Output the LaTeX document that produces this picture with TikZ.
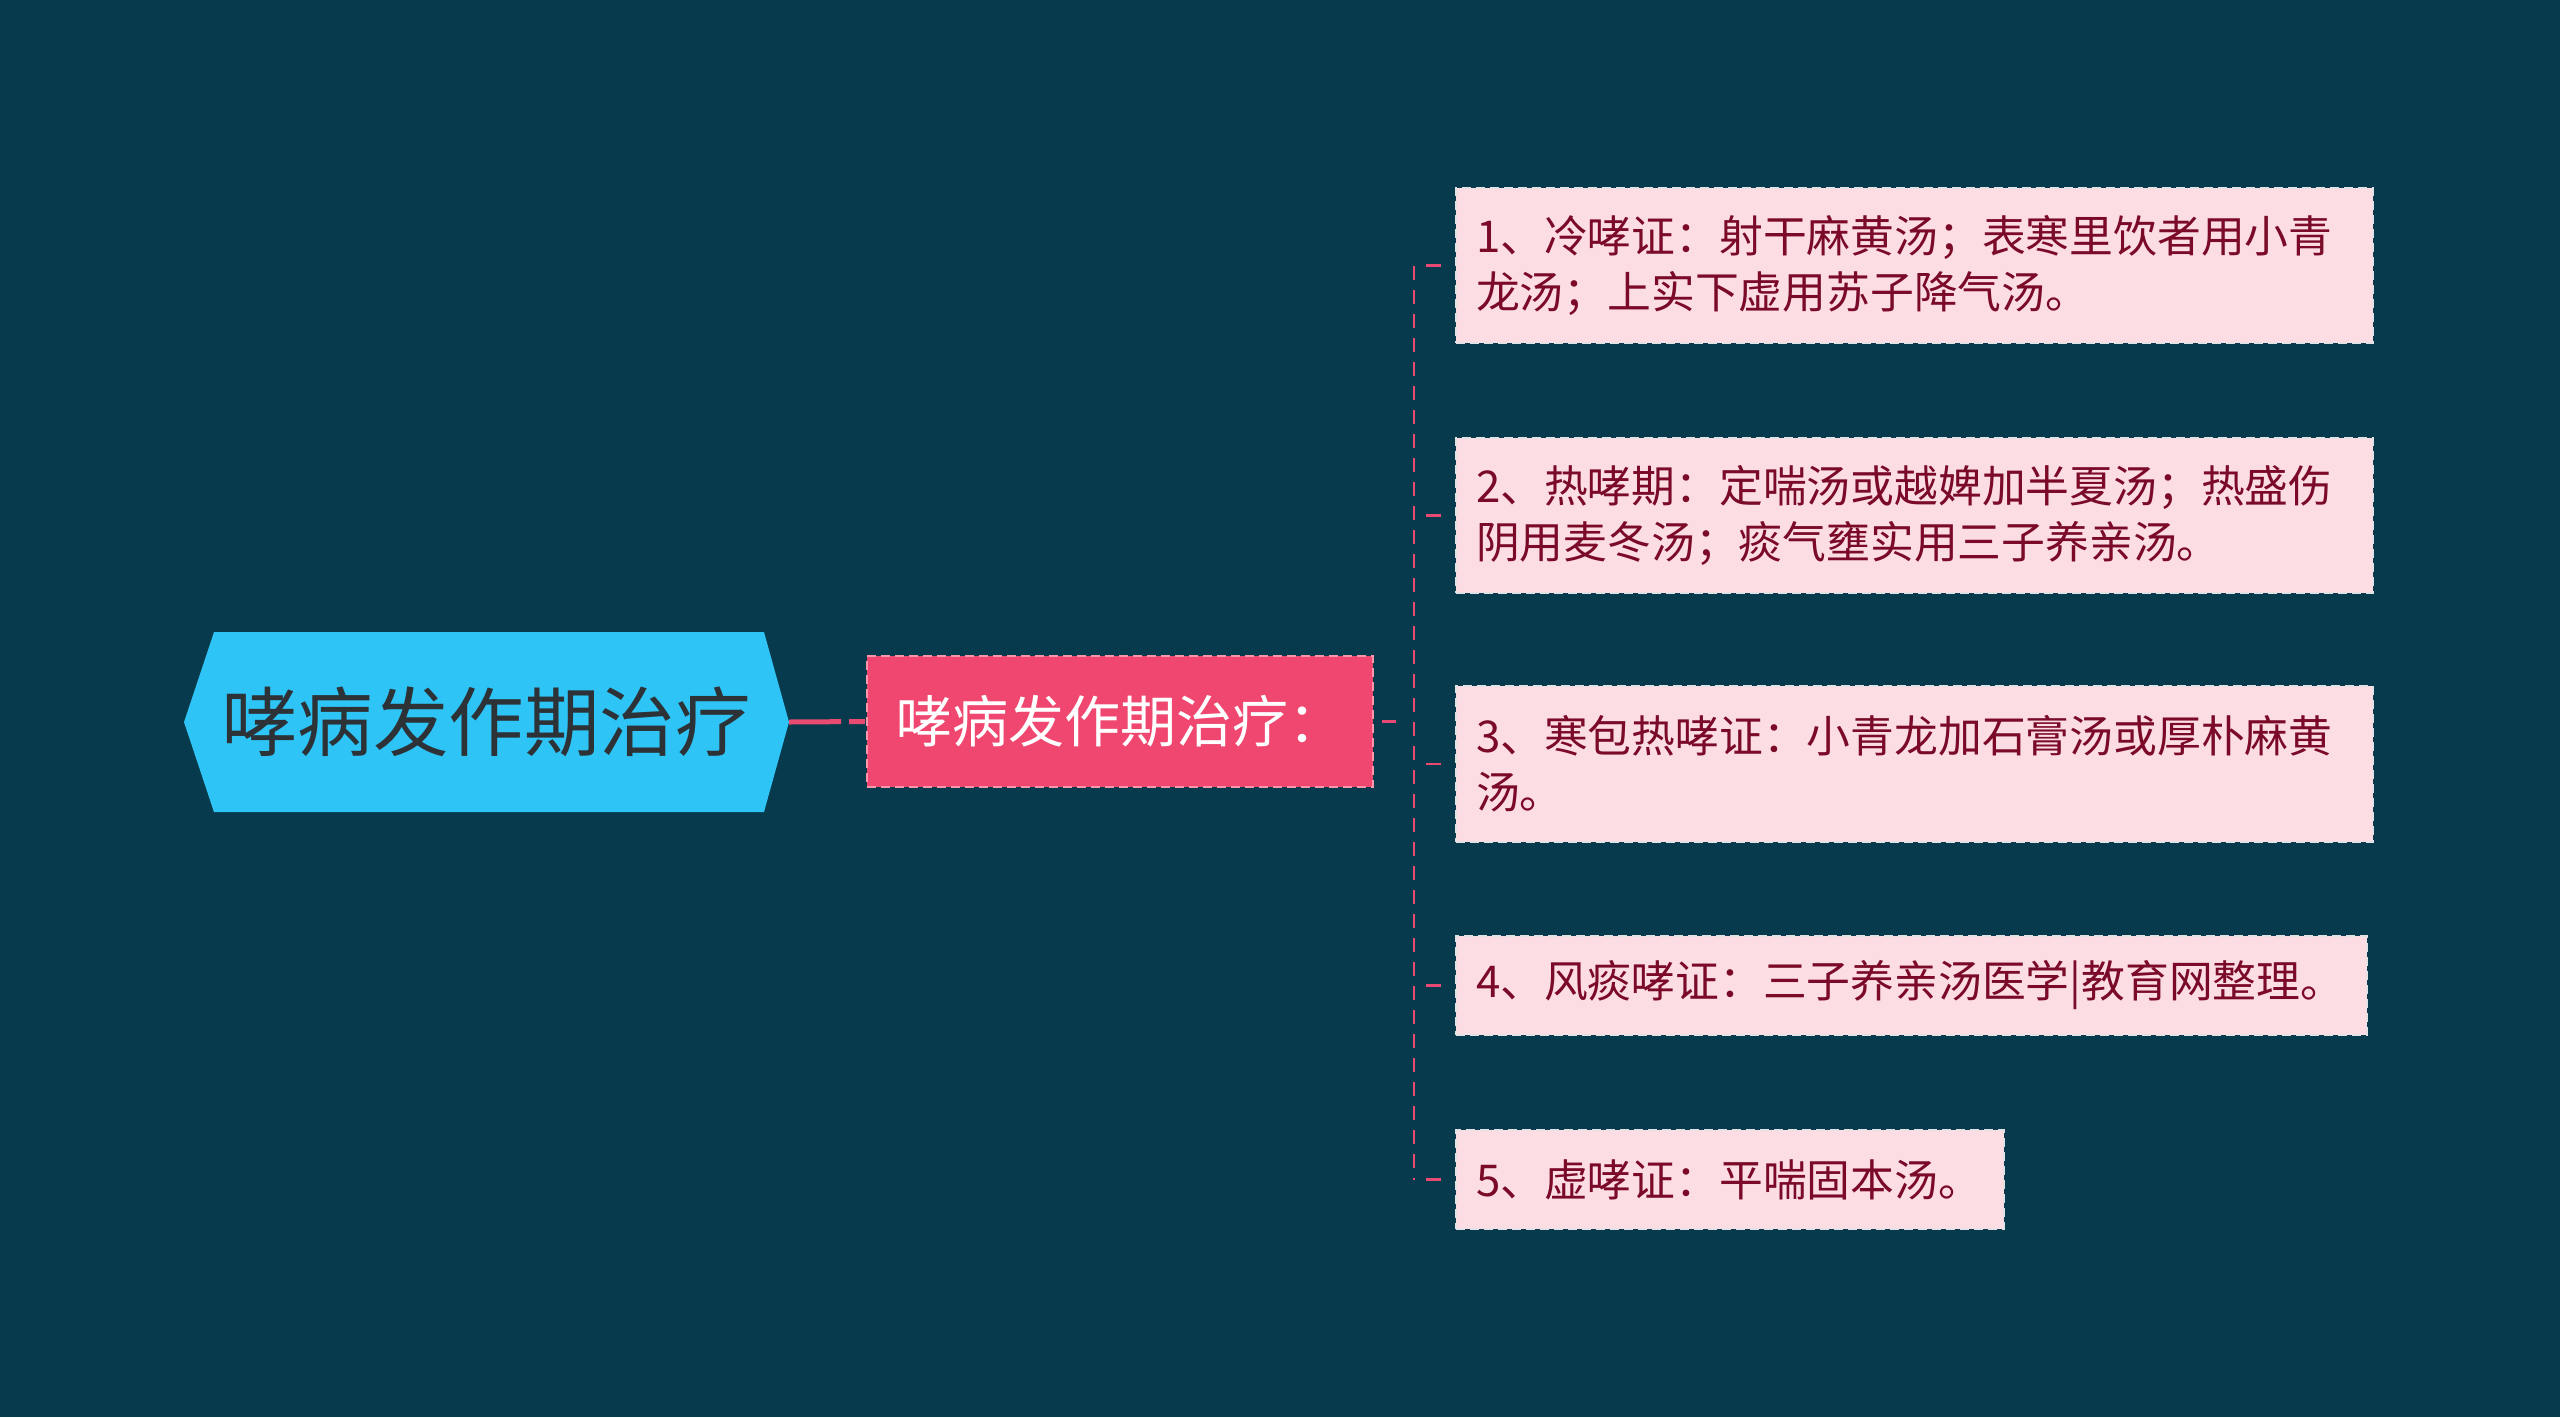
\documentclass[tikz,border=0pt]{standalone}
\usepackage{fontspec}
\setmainfont{Noto Sans CJK SC}
\definecolor{bg}{RGB}{7,58,76}
\definecolor{rootfill}{RGB}{46,196,245}
\definecolor{roottext}{RGB}{45,50,55}
\definecolor{midfill}{RGB}{239,71,111}
\definecolor{midborder}{RGB}{250,150,170}
\definecolor{leaffill}{RGB}{253,221,228}
\definecolor{leafborder}{RGB}{225,225,230}
\definecolor{leaftext}{RGB}{122,10,40}
\definecolor{conn}{RGB}{232,74,114}
\tikzset{
  x=1pt, y=1pt,
  midbox/.style={draw=midborder, fill=midfill, line width=2pt, dash pattern=on 9pt off 5pt,
    minimum width=506pt, minimum height=131pt, inner sep=0pt, text=white,
    font=\fontsize{56}{66}\selectfont},
  leafbox/.style={draw=leafborder, fill=leaffill, line width=2pt, dash pattern=on 9pt off 5pt,
    anchor=west, inner xsep=20pt, inner ysep=0pt, align=left, text=leaftext,
    font=\fontsize{43.8}{56}\selectfont},
  busline/.style={draw=conn, line width=2.5pt, dash pattern=on 14pt off 10pt},
  tick/.style={draw=conn, line width=2.5pt, dash pattern=on 0pt off 12pt on 15pt off 100pt},
}
\begin{document}
\begin{tikzpicture}
\fill[bg] (0,0) rectangle (2560,-1417);
\useasboundingbox (0,0) rectangle (2560,-1417);
% root hexagon
\fill[rootfill] (184,-722) -- (214,-632) -- (764,-632) -- (789,-722) -- (764,-812) -- (214,-812) -- cycle;
\node[minimum width=605pt, minimum height=180pt, inner sep=0pt, text=roottext,
  font=\fontsize{75.5}{88}\selectfont] (root) at (486.5,-722) {哮病发作期治疗};
% middle
\node[midbox] (mid) at (1120,-721.5) {哮病发作期治疗：};
% leaves
\node[leafbox, text width=877pt, minimum height=155pt] (l1) at (1455,-265.5)
  {1、冷哮证：射干麻黄汤；表寒里饮者用小青\\龙汤；上实下虚用苏子降气汤。};
\node[leafbox, text width=877pt, minimum height=155pt] (l2) at (1455,-515.5)
  {2、热哮期：定喘汤或越婢加半夏汤；热盛伤\\阴用麦冬汤；痰气壅实用三子养亲汤。};
\node[leafbox, text width=877pt, minimum height=156pt] (l3) at (1455,-764)
  {3、寒包热哮证：小青龙加石膏汤或厚朴麻黄\\汤。};
\node[leafbox, text width=871pt, minimum height=99pt] (l4) at (1455,-985.5)
  {4、风痰哮证：三子养亲汤医学|教育网整理。};
\node[leafbox, text width=508pt, minimum height=99pt] (l5) at (1455,-1179.5)
  {5、虚哮证：平喘固本汤。};
% connectors
\draw[conn, line width=5pt, dash pattern=on 52pt off 8pt on 16pt off 100pt] (root.east) -- (mid.west);
\coordinate (bm) at (1414,-721.5);
\coordinate (b1) at (1414,-265.5);
\coordinate (b2) at (1414,-515.5);
\coordinate (b3) at (1414,-764);
\coordinate (b4) at (1414,-985.5);
\coordinate (b5) at (1414,-1179.5);
\draw[conn, line width=2.5pt, dash pattern=on 0pt off 8pt on 14pt off 100pt] (mid.east) -- (bm);
\draw[busline] (b1) -- (b5);
\draw[tick] (b1) -- (l1.west);
\draw[tick] (b2) -- (l2.west);
\draw[tick] (b3) -- (l3.west);
\draw[tick] (b4) -- (l4.west);
\draw[tick] (b5) -- (l5.west);
\end{tikzpicture}
\end{document}
